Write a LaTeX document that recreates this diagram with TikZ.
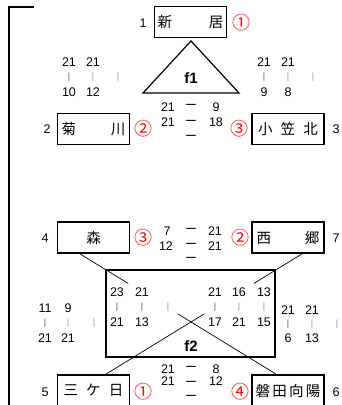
\documentclass[tikz,border=0pt]{standalone}
\usepackage{fontspec}
\setmainfont{Liberation Sans}
\newfontfamily\jp{Noto Sans CJK JP}
\usetikzlibrary{calc}
\begin{document}
\begin{tikzpicture}[x=1pt,y=-1pt,
  team/.style={draw,line width=1.8pt,minimum width=72pt,minimum height=31pt,inner sep=0pt,font=\jp\fontsize{14.5}{14.5}\selectfont},
  num/.style={inner sep=0pt,font=\fontsize{12.5}{12.5}\selectfont},
  seed/.style={inner sep=0pt,text=red,font=\jp\fontsize{18}{18}\selectfont},
  bar/.style={inner sep=0pt,text=black!65,font=\fontsize{9}{9}\selectfont},
  barl/.style={bar,text=black!42},
  dashmark/.style={inner sep=0pt,font=\jp\fontsize{12}{12}\selectfont},
  link/.style={line width=0.7pt},
  ftitle/.style={inner sep=0pt,font=\bfseries\fontsize{15}{15}\selectfont}
]
\useasboundingbox (0,0) rectangle (342,405);
% bracket
\coordinate (bra) at (34,7);
\coordinate (brb) at (9,7);
\coordinate (brc) at (9,406);
\draw[line width=2pt] (bra) -- (brb) -- (brc);

% ---------- f1 ----------
\node[team] (shinkyo) at (190.5,22) {\makebox[66pt]{新\hfill 居}};
\node[num] (n1) at (143,23) {1};
\node[seed] (s1) at (241,23) {①};
\coordinate (t1) at (191,41);
\coordinate (t2) at (143,93);
\coordinate (t3) at (239,93);
\draw[line width=1.2pt,line join=miter] (t1) -- (t2) -- (t3) -- cycle;
\node[ftitle] (f1) at (191,78) {f1};

\node[num] (a1) at (69,62) {21};
\node[num] (a2) at (93,62) {21};
\node[bar] (a3) at (69,77) {|};
\node[barl] (a4) at (93,77) {|};
\node[barl] (a5) at (118,77) {|};
\node[num] (a6) at (69,92) {10};
\node[num] (a7) at (93,92) {12};

\node[num] (b1) at (264,62) {21};
\node[num] (b2) at (288,62) {21};
\node[bar] (b3) at (264,77) {|};
\node[barl] (b4) at (288,77) {|};
\node[barl] (b5) at (313,77) {|};
\node[num] (b6) at (264,92) {9};
\node[num] (b7) at (288,92) {8};

\node[num] (c1) at (168,107) {21};
\node[dashmark] (c2) at (191,107) {ー};
\node[num] (c3) at (216,107) {9};
\node[num] (c4) at (168,122) {21};
\node[dashmark] (c5) at (191,123) {ー};
\node[num] (c6) at (216,122) {18};
\node[dashmark] (c7) at (191,138) {ー};

\node[team] (kiku) at (93.5,129) {\makebox[64pt]{菊\hfill 川}};
\node[num] (n2) at (47,129) {2};
\node[seed] (s2) at (143,129) {②};
\node[team] (koga) at (288,129) {\makebox[60pt]{小\hfill 笠\hfill 北}};
\node[seed] (s3) at (239,129) {③};
\node[num] (n3) at (336,129) {3};

% ---------- f2 ----------
\node[team] (mori) at (93.5,237.5) {森};
\node[num] (n4) at (45,238) {4};
\node[seed] (s4) at (143,238) {③};
\node[team] (saigo) at (288,237.5) {\makebox[63pt]{西\hfill 郷}};
\node[seed] (s5) at (240,238) {②};
\node[num] (n7) at (336,238) {7};

\node[num] (d1) at (167,231) {7};
\node[dashmark] (d2) at (191,231) {ー};
\node[num] (d3) at (215,231) {21};
\node[num] (d4) at (166,246) {12};
\node[dashmark] (d5) at (191,246) {ー};
\node[num] (d6) at (215,246) {21};
\node[dashmark] (d7) at (191,260) {ー};

\node[draw,line width=1.8pt,minimum width=169pt,minimum height=87pt,inner sep=0pt] (f2box) at (190.5,313.5) {};
\node[ftitle] (f2) at (191,346) {f2};

\node[num] (e1) at (117,292) {23};
\node[num] (e2) at (142,292) {21};
\node[bar] (e3) at (117,307) {|};
\node[bar] (e4) at (142,307) {|};
\node[barl] (e5) at (168,307) {|};
\node[num] (e6) at (117,322) {21};
\node[num] (e7) at (142,322) {13};

\node[num] (g1) at (215,292) {21};
\node[num] (g2) at (239,292) {16};
\node[num] (g3) at (264,292) {13};
\node[bar] (g4) at (215,307) {|};
\node[barl] (g5) at (239,307) {|};
\node[barl] (g6) at (264,307) {|};
\node[num] (g7) at (215,322) {17};
\node[num] (g8) at (239,322) {21};
\node[num] (g9) at (264,322) {15};

\node[num] (h1) at (45,308) {11};
\node[num] (h2) at (68,308) {9};
\node[bar] (h3) at (45,323) {|};
\node[barl] (h4) at (68,323) {|};
\node[barl] (h5) at (94,323) {|};
\node[num] (h6) at (45,338) {21};
\node[num] (h7) at (68,338) {21};

\node[num] (k1) at (288,310) {21};
\node[num] (k2) at (312,310) {21};
\node[bar] (k3) at (288,324) {|};
\node[barl] (k4) at (312,324) {|};
\node[barl] (k5) at (337,324) {|};
\node[num] (k6) at (288,338) {6};
\node[num] (k7) at (312,338) {13};

\node[team] (mikka) at (93.5,390.5) {\makebox[60pt]{三\hfill ケ\hfill 日}};
\node[num] (n5) at (45,392) {5};
\node[seed] (s6) at (143,392) {①};
\node[team] (iwata) at (288,390.5) {\makebox[65pt]{磐\hfill 田\hfill 向\hfill 陽}};
\node[seed] (s7) at (240,392) {④};
\node[num] (n6) at (336,392) {6};

\node[num] (m1) at (168,369) {21};
\node[dashmark] (m2) at (191,369) {ー};
\node[num] (m3) at (216,369) {8};
\node[num] (m4) at (168,381) {21};
\node[dashmark] (m5) at (191,384) {ー};
\node[num] (m6) at (216,381) {12};
\node[dashmark] (m7) at (191,398) {ー};

% connectors
\coordinate (ma) at ($(mori.south)+(-13.5,0)$);
\coordinate (ib) at ($(iwata.north)+(-12,0)$);
\coordinate (sa) at ($(saigo.south)+(14,0)$);
\coordinate (kb) at ($(mikka.north)+(12.5,0)$);
\draw[link] (ma) -- ($(ma)!0.246!(ib)$);
\draw[link] ($(ma)!0.5!(ib)$) -- (ib);
\draw[link] (sa) -- ($(sa)!0.246!(kb)$);
\draw[link] ($(sa)!0.5!(kb)$) -- (kb);
\end{tikzpicture}
\end{document}
